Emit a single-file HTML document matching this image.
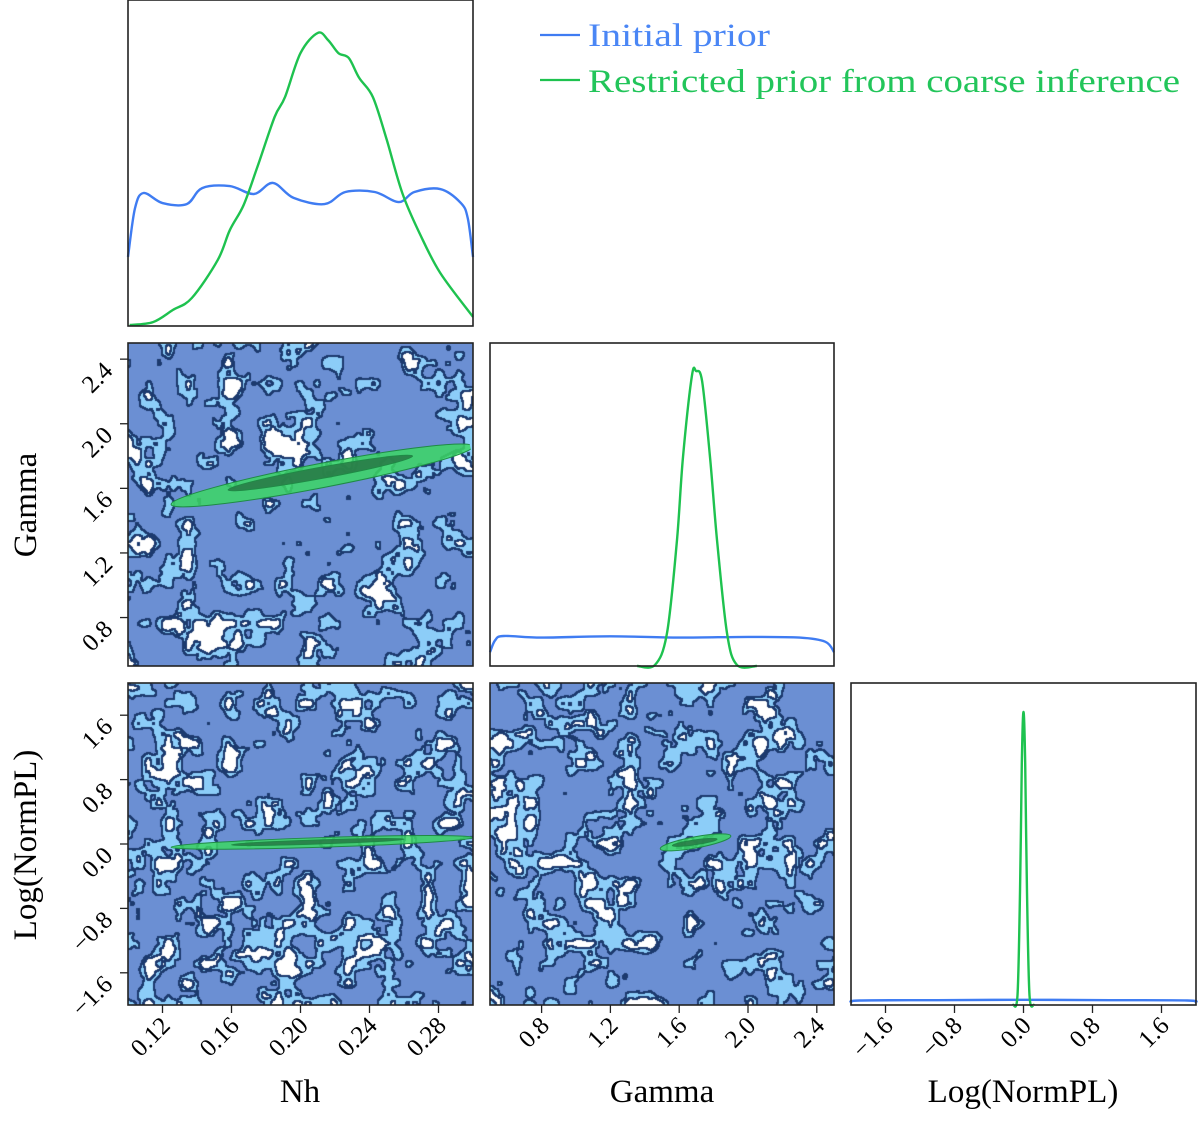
<!DOCTYPE html>
<html><head><meta charset="utf-8">
<style>
html,body{margin:0;padding:0;background:#fff;}
#wrap{position:relative;width:1200px;height:1137px;overflow:hidden;}
canvas{position:absolute;}
svg{position:absolute;left:0;top:0;}
text{font-family:"Liberation Serif",serif;}
</style></head>
<body>
<div id="wrap">
<canvas id="c1" width="345" height="323" style="left:128px;top:343px"></canvas>
<canvas id="c2" width="345" height="322" style="left:128px;top:683px"></canvas>
<canvas id="c3" width="344" height="322" style="left:490px;top:683px"></canvas>
<svg id="svg" width="1200" height="1137"></svg>
</div>
<script>
// ---- data ----
const nhRange=[0.10,0.30], gammaRange=[0.5,2.5], logRange=[-2,2];
const nhTicks=[0.12,0.16,0.20,0.24,0.28];
const nhTickLabels=["0.12","0.16","0.20","0.24","0.28"];
const gammaTicks=[0.8,1.2,1.6,2.0,2.4];
const gammaTickLabels=["0.8","1.2","1.6","2.0","2.4"];
const logTicks=[-1.6,-0.8,0.0,0.8,1.6];
const logTickLabels=["\u22121.6","\u22120.8","0.0","0.8","1.6"];

const nhGreenX=[0.101,0.1145,0.126,0.137,0.152,0.159,0.167,0.175,0.185,0.191,0.200,0.210,0.216,0.222,0.228,0.234,0.242,0.250,0.259,0.269,0.281,0.300];
const nhGreenY=[0.03,0.12,0.49,0.86,2.02,2.94,3.71,4.88,6.41,7.02,8.37,8.99,8.77,8.37,8.22,7.61,7.02,5.71,4.08,2.85,1.63,0.28];
const nhBlueX=[0.100,0.104,0.109,0.120,0.134,0.143,0.159,0.173,0.184,0.196,0.214,0.226,0.243,0.257,0.266,0.281,0.293,0.297,0.300];
const nhBlueY=[2.12,3.6,4.08,3.77,3.74,4.23,4.29,4.05,4.39,3.93,3.74,4.11,4.11,3.80,4.11,4.20,3.77,3.3,2.12];

const gGreenX=[1.355,1.459,1.529,1.587,1.622,1.674,1.698,1.733,1.779,1.820,1.878,1.936,2.052];
const gGreenY=[0,0.03,1.02,3.90,6.47,8.98,9.13,8.82,6.47,3.90,1.02,0.03,0];
const gBlueX=[0.5,0.53,0.58,0.8,1.2,1.6,2.0,2.3,2.45,2.5];
const gBlueY=[0.43,0.8,0.93,0.88,0.92,0.88,0.9,0.88,0.75,0.43];

const lGreenX=[-0.12,-0.07,-0.04,-0.02,0.0,0.02,0.04,0.07,0.12];
const lGreenY=[0,0.3,3.5,7.5,9.1,7.5,3.5,0.3,0];
const lBlueX=[-2.0,-1.9,-1.0,0.0,1.0,1.9,2.0];
const lBlueY=[0.08,0.14,0.15,0.16,0.15,0.14,0.08];
const densMax=10;

const nhGammaOuter=[[0.125,1.50],[0.30,1.86],0.075];
const nhGammaInner=[[0.158,1.59],[0.265,1.80],0.035];
const nhLogOuter=[[0.125,-0.04],[0.30,0.08],0.06];
const nhLogInner=[[0.16,-0.01],[0.26,0.06],0.025];
const gLogOuter=[[1.49,-0.06],[1.90,0.10],0.07];
const gLogInner=[[1.56,-0.02],[1.82,0.06],0.03];

// ---- layout ----
const P={
 top:{x:128,y:0,w:345,h:326},
 ng:{x:128,y:343,w:345,h:323},
 g1:{x:490,y:343,w:344,h:323},
 nl:{x:128,y:683,w:345,h:322},
 gl:{x:490,y:683,w:344,h:322},
 l1:{x:851,y:683,w:345,h:322}
};
const NS="http://www.w3.org/2000/svg";
const svg=document.getElementById('svg');
function el(t,a,p){const e=document.createElementNS(NS,t);for(const k in a)e.setAttribute(k,a[k]);(p||svg).appendChild(e);return e;}
function sx(p,r,v){return p.x+(v-r[0])/(r[1]-r[0])*p.w;}
function sy(p,r,v){return p.y+p.h-(v-r[0])/(r[1]-r[0])*p.h;}

// ---- noise fields ----
function hash(i,j,s){let h=(i*374761393+j*668265263+s*982451653)|0;h=(h^(h>>>13))*1274126177|0;return ((h^(h>>>16))>>>0)/4294967296;}
function vnoise(x,y,s){const i=Math.floor(x),j=Math.floor(y),fx=x-i,fy=y-j;const u=fx*fx*(3-2*fx),v=fy*fy*(3-2*fy);
 const a=hash(i,j,s),b=hash(i+1,j,s),c=hash(i,j+1,s),d=hash(i+1,j+1,s);return a+(b-a)*u+(c-a)*v+(a-b-c+d)*u*v;}
function field(x,y,s){return 0.55*vnoise(x/20,y/20,s)+0.32*vnoise(x/10,y/10,s+7)+0.13*vnoise(x/5,y/5,s+13);}
function drawField(id,seed){
 const cv=document.getElementById(id),ctx=cv.getContext('2d'),W=cv.width,H=cv.height;
 const lv=new Uint8Array(W*H);
 for(let y=0;y<H;y++)for(let x=0;x<W;x++){const f=field(x,y,seed);lv[y*W+x]=f<0.56?0:(f<0.70?1:2);}
 const img=ctx.createImageData(W,H);const cols=[[107,143,211],[140,205,248],[255,255,255]];
 for(let y=0;y<H;y++)for(let x=0;x<W;x++){const k=y*W+x;let c=cols[lv[k]];
  let edge=false;for(let dy=-1;dy<=1&&!edge;dy++)for(let dx=-1;dx<=1;dx++){const xx=x+dx,yy=y+dy;if(xx<0||yy<0||xx>=W||yy>=H)continue;if(lv[yy*W+xx]!=lv[k]){edge=true;break;}}
  if(edge)c=[28,58,110];
  img.data[k*4]=c[0];img.data[k*4+1]=c[1];img.data[k*4+2]=c[2];img.data[k*4+3]=255;}
 ctx.putImageData(img,0,0);
}
drawField('c1',3);drawField('c2',11);drawField('c3',29);

// ---- regions ----
function band(p,rx,ry,spec,fill,name){
 const [a,b,t]=spec;const x1=sx(p,rx,a[0]),y1=sy(p,ry,a[1]),x2=sx(p,rx,b[0]),y2=sy(p,ry,b[1]);
 const th=Math.abs(sy(p,ry,t)-sy(p,ry,0));
 const cx=(x1+x2)/2,cy=(y1+y2)/2,len=Math.hypot(x2-x1,y2-y1),ang=Math.atan2(y2-y1,x2-x1)*180/Math.PI;
 const e=el('ellipse',{cx:cx,cy:cy,rx:len/2,ry:th,fill:fill,stroke:'#1f8a45','stroke-width':1,transform:`rotate(${ang} ${cx} ${cy})`});
 
 
 return e;
}
function clip(id,p){const c=el('clipPath',{id:id});el('rect',{x:p.x,y:p.y,width:p.w,height:p.h},c);}
clip('cpng',P.ng);clip('cpnl',P.nl);clip('cpgl',P.gl);
band(P.ng,nhRange,gammaRange,nhGammaOuter,'rgba(60,215,100,0.85)','nh-gamma-outer-region').setAttribute('clip-path','url(#cpng)');
band(P.ng,nhRange,gammaRange,nhGammaInner,'rgba(40,120,70,0.85)','nh-gamma-inner-region').setAttribute('clip-path','url(#cpng)');
band(P.nl,nhRange,logRange,nhLogOuter,'rgba(60,215,100,0.85)','nh-log-outer-region').setAttribute('clip-path','url(#cpnl)');
band(P.nl,nhRange,logRange,nhLogInner,'rgba(40,120,70,0.85)','nh-log-inner-region').setAttribute('clip-path','url(#cpnl)');
band(P.gl,gammaRange,logRange,gLogOuter,'rgba(60,215,100,0.85)','gamma-log-outer-region').setAttribute('clip-path','url(#cpgl)');
band(P.gl,gammaRange,logRange,gLogInner,'rgba(40,120,70,0.85)','gamma-log-inner-region').setAttribute('clip-path','url(#cpgl)');

// ---- 1D curves (smooth Catmull-Rom) ----
function curve(p,r,xs,ys,color,name){
 const pts=xs.map((v,i)=>[sx(p,r,v),sy(p,[0,densMax],ys[i])]);
 let d='M'+pts[0][0].toFixed(1)+','+pts[0][1].toFixed(1);
 for(let i=0;i<pts.length-1;i++){
  const p0=pts[Math.max(0,i-1)],p1=pts[i],p2=pts[i+1],p3=pts[Math.min(pts.length-1,i+2)];
  const c1=[p1[0]+(p2[0]-p0[0])/6,p1[1]+(p2[1]-p0[1])/6],c2=[p2[0]-(p3[0]-p1[0])/6,p2[1]-(p3[1]-p1[1])/6];
  d+=` C${c1[0].toFixed(1)},${c1[1].toFixed(1)} ${c2[0].toFixed(1)},${c2[1].toFixed(1)} ${p2[0].toFixed(1)},${p2[1].toFixed(1)}`;
 }
 const e=el('path',{d:d,fill:'none',stroke:color,'stroke-width':2.4,'stroke-linejoin':'round'});
 
 
}
const BLUE='#3f7cf2',GREEN='#1ec24f';
curve(P.top,nhRange,nhBlueX,nhBlueY,BLUE,'nh-initial-prior');
curve(P.top,nhRange,nhGreenX,nhGreenY,GREEN,'nh-restricted-prior');
curve(P.g1,gammaRange,gBlueX,gBlueY,BLUE,'gamma-initial-prior');
curve(P.g1,gammaRange,gGreenX,gGreenY,GREEN,'gamma-restricted-prior');
curve(P.l1,logRange,lBlueX,lBlueY,BLUE,'lognorm-initial-prior');
curve(P.l1,logRange,lGreenX,lGreenY,GREEN,'lognorm-restricted-prior');

// ---- frames ----
for(const k in P){const p=P[k];const f=el('rect',{x:p.x,y:p.y,width:p.w,height:p.h,fill:'none',stroke:'#222','stroke-width':1.6});
 
 }

// ---- ticks ----
function xTicks(p,r,ticks,labels,name){
 ticks.forEach((v,i)=>{const x=sx(p,r,v);el('line',{x1:x,y1:p.y+p.h,x2:x,y2:p.y+p.h+8,stroke:'#222','stroke-width':1.3});
  const tx=x+9,ty=p.y+p.h+22;
  const t=el('text',{x:tx,y:ty,'font-size':25,'text-anchor':'end',transform:`rotate(-45 ${tx} ${ty})`});t.textContent=labels[i];
  
  });
}
function yTicks(p,r,ticks,labels,name){
 ticks.forEach((v,i)=>{const y=sy(p,r,v);el('line',{x1:p.x-8,y1:y,x2:p.x,y2:y,stroke:'#222','stroke-width':1.3});
  const tx=p.x-14,ty=y+13;
  const t=el('text',{x:tx,y:ty,'font-size':25,'text-anchor':'end',transform:`rotate(-45 ${tx} ${ty})`});t.textContent=labels[i];
  
  });
}
xTicks(P.nl,nhRange,nhTicks,nhTickLabels,'nh-x');
xTicks(P.gl,gammaRange,gammaTicks,gammaTickLabels,'gamma-x');
xTicks(P.l1,logRange,logTicks,logTickLabels,'lognorm-x');
yTicks(P.ng,gammaRange,gammaTicks,gammaTickLabels,'gamma-y');
yTicks(P.nl,logRange,logTicks,logTickLabels,'lognorm-y');

// ---- axis titles ----
function title(x,y,s,rot,name){const t=el('text',{x:x,y:y,'font-size':33,'text-anchor':'middle'});t.textContent=s;
 if(rot)t.setAttribute('transform',`rotate(-90 ${x} ${y})`);
 
 }
title(300,1102,'Nh',false,'nh-x-axis-title');
title(662,1102,'Gamma',false,'gamma-x-axis-title');
title(1023,1102,'Log(NormPL)',false,'lognorm-x-axis-title');
title(36,505,'Gamma',true,'gamma-y-axis-title');
title(36,845,'Log(NormPL)',true,'lognorm-y-axis-title');

// ---- legend ----
const lg=el('g',{});


el('line',{x1:540,y1:35,x2:580,y2:35,stroke:BLUE,'stroke-width':2.2},lg);
const t1=el('text',{x:588,y:46,'font-size':33,fill:'#4a86f5',textLength:182,lengthAdjust:'spacingAndGlyphs'},lg);t1.textContent='Initial prior';


el('line',{x1:540,y1:80,x2:580,y2:80,stroke:GREEN,'stroke-width':2.2},lg);
const t2=el('text',{x:588,y:92,'font-size':33,fill:'#22c55a',textLength:592,lengthAdjust:'spacingAndGlyphs'},lg);t2.textContent='Restricted prior from coarse inference';


</script>
</body></html>
